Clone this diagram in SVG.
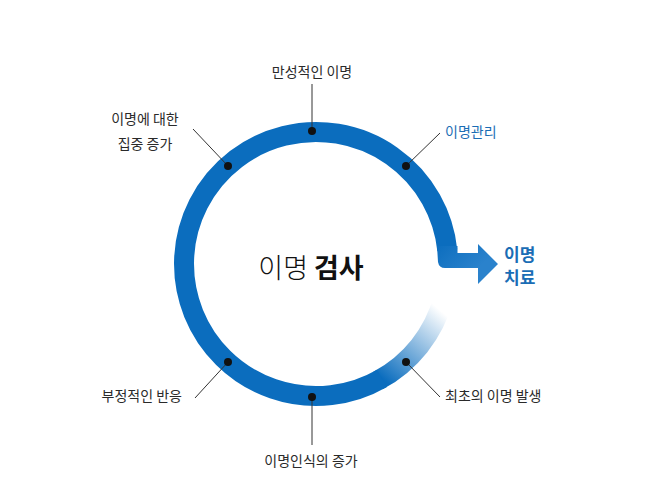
<svg xmlns="http://www.w3.org/2000/svg" width="647" height="502" viewBox="0 0 647 502">
  <defs>
    <linearGradient id="fade" gradientUnits="userSpaceOnUse" x1="440" y1="310" x2="382" y2="378">
      <stop offset="0" stop-color="#0b6dbe" stop-opacity="0"/>
      <stop offset="1" stop-color="#0b6dbe" stop-opacity="1"/>
    </linearGradient>
    <linearGradient id="arrowFill" gradientUnits="userSpaceOnUse" x1="440" y1="240" x2="470" y2="275">
      <stop offset="0" stop-color="#0b6dbe"/>
      <stop offset="1" stop-color="#2a82cc"/>
    </linearGradient>
  </defs>
  <style>
    text { font-family: "Noto Sans CJK KR", "Noto Sans", sans-serif; }
    .lbl { font-size: 14px; fill: #2a2a2a; }
    .blue { fill: #1a6db5; }
    .lead { stroke: #333; stroke-width: 1; fill: none; }
    .dot { fill: #111; }
    .ring { fill: none; stroke-width: 20; }
  </style>
  <rect width="647" height="502" fill="#ffffff"/>

  <g id="cycle">
    <path class="ring" stroke="url(#fade)" d="M 443.5 298.2 A 132 132 0 0 1 378 380.5"/>
    <path class="ring" stroke="#0b6dbe" d="M 382 378.3 A 132 132 0 1 1 447.3 250.2"/>
    <path fill="url(#arrowFill)" d="M 437 246 L 438 262 Q 439 268 445 268 L 478 268 L 478 284 L 498 264 L 478 244 L 478 253 L 457.5 253 L 457.5 246 Z"/>
  </g>

  <g id="connectors">
    <line class="lead" x1="312" y1="84" x2="312" y2="131"/>
    <line class="lead" x1="193" y1="129" x2="228" y2="166"/>
    <line class="lead" x1="440" y1="133" x2="406" y2="166"/>
    <line class="lead" x1="195" y1="398" x2="228" y2="362"/>
    <line class="lead" x1="440" y1="397" x2="406" y2="362"/>
    <line class="lead" x1="312" y1="397" x2="312" y2="445"/>
  </g>

  <g id="center-label">
    <text x="311" y="278" text-anchor="middle" font-size="27" fill="#111"><tspan font-weight="300">이명 </tspan><tspan font-weight="700">검사</tspan></text>
  </g>

  <g id="node-chronic">
    <circle class="dot" cx="312" cy="131" r="4"/>
    <text class="lbl" x="312" y="77" text-anchor="middle">만성적인 이명</text>
  </g>
  <g id="node-focus">
    <circle class="dot" cx="228" cy="166" r="4"/>
    <text class="lbl" x="145" y="124" text-anchor="middle">이명에 대한</text>
    <text class="lbl" x="145" y="149" text-anchor="middle">집중 증가</text>
  </g>
  <g id="node-management">
    <circle class="dot" cx="406" cy="166" r="4"/>
    <text class="lbl blue" x="445" y="137">이명관리</text>
  </g>
  <g id="node-negative">
    <circle class="dot" cx="228" cy="362" r="4"/>
    <text class="lbl" x="182" y="401" text-anchor="end">부정적인 반응</text>
  </g>
  <g id="node-first">
    <circle class="dot" cx="406" cy="362" r="4"/>
    <text class="lbl" x="445" y="401">최초의 이명 발생</text>
  </g>
  <g id="node-awareness">
    <circle class="dot" cx="312" cy="397" r="4"/>
    <text class="lbl" x="311" y="466" text-anchor="middle">이명인식의 증가</text>
  </g>
  <g id="node-treatment">
    <text x="504" y="261" font-size="17" font-weight="700" class="blue">이명</text>
    <text x="504" y="284" font-size="17" font-weight="700" class="blue">치료</text>
  </g>
</svg>
